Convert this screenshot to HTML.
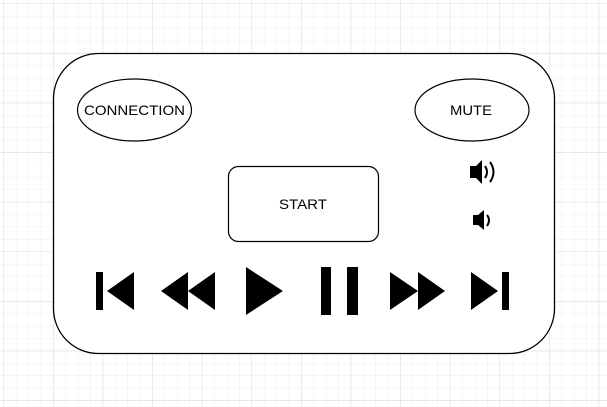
<!DOCTYPE html>
<html><head><meta charset="utf-8"><style>
html,body{margin:0;padding:0;background:#fff}
svg{display:block}
text{font-family:"Liberation Sans",Arial,sans-serif;font-size:14px;fill:#000}
</style></head><body>
<svg width="607" height="407" viewBox="0 0 607 407">
<defs>
<pattern id="minor" x="3.5" y="3.5" width="12.4" height="12.4" patternUnits="userSpaceOnUse">
<path d="M0 0H12.4M0 0V12.4" stroke="#ececec" stroke-width="1" fill="none"/>
</pattern>
<pattern id="major" x="3.5" y="3.5" width="49.6" height="49.6" patternUnits="userSpaceOnUse">
<path d="M0 0H49.6M0 0V49.6" stroke="#dcdcdc" stroke-width="1" fill="none"/>
</pattern>
</defs>
<rect width="607" height="407" fill="url(#minor)"/>
<rect width="607" height="407" fill="url(#major)"/>
<rect x="53.5" y="53.5" width="501" height="300" rx="45" fill="#fff" stroke="#000" stroke-width="1.3"/>
<g>
<ellipse cx="134.5" cy="110" rx="57" ry="31" fill="#fff" stroke="#000" stroke-width="1.2"/>
<text x="134.5" y="115" text-anchor="middle" textLength="101" lengthAdjust="spacingAndGlyphs">CONNECTION</text>
</g>
<g>
<ellipse cx="472" cy="110" rx="57" ry="31" fill="#fff" stroke="#000" stroke-width="1.2"/>
<text x="471" y="115" text-anchor="middle" textLength="42" lengthAdjust="spacingAndGlyphs">MUTE</text>
</g>
<g>
<rect x="228.5" y="166.5" width="150" height="75" rx="10" fill="#fff" stroke="#000" stroke-width="1.2"/>
<text x="303" y="209" text-anchor="middle" textLength="48" lengthAdjust="spacingAndGlyphs">START</text>
</g>
<g>
<path d="M470 166H476L482 160V184L476 178H470Z" fill="#000"/>
<path d="M485 166Q489 172 485 178" stroke="#000" stroke-width="2" fill="none"/>
<path d="M490 162Q497 172 490 182" stroke="#000" stroke-width="2" fill="none"/>
</g>
<g>
<path d="M473 215H478L484 210V230L478 225H473Z" fill="#000"/>
<path d="M487 215Q491 220 487 226" stroke="#000" stroke-width="2" fill="none"/>
</g>
<g>
<rect x="96" y="272" width="7" height="38" fill="#000"/>
<path d="M107 291L134 272V310Z" fill="#000"/>
</g>
<g>
<path d="M161 291L188 272V310Z" fill="#000"/>
<path d="M188 291L215 272V310Z" fill="#000"/>
</g>
<g>
<path d="M246 267L283 291L246 315Z" fill="#000"/>
</g>
<g>
<rect x="321" y="267" width="10" height="48" fill="#000"/>
<rect x="347" y="267" width="11" height="48" fill="#000"/>
</g>
<g>
<path d="M390 272L418 291L390 310Z" fill="#000"/>
<path d="M418 272L445 291L418 310Z" fill="#000"/>
</g>
<g>
<path d="M471 272L498 291L471 310Z" fill="#000"/>
<rect x="502" y="272" width="7" height="38" fill="#000"/>
</g>
</svg>
</body></html>
